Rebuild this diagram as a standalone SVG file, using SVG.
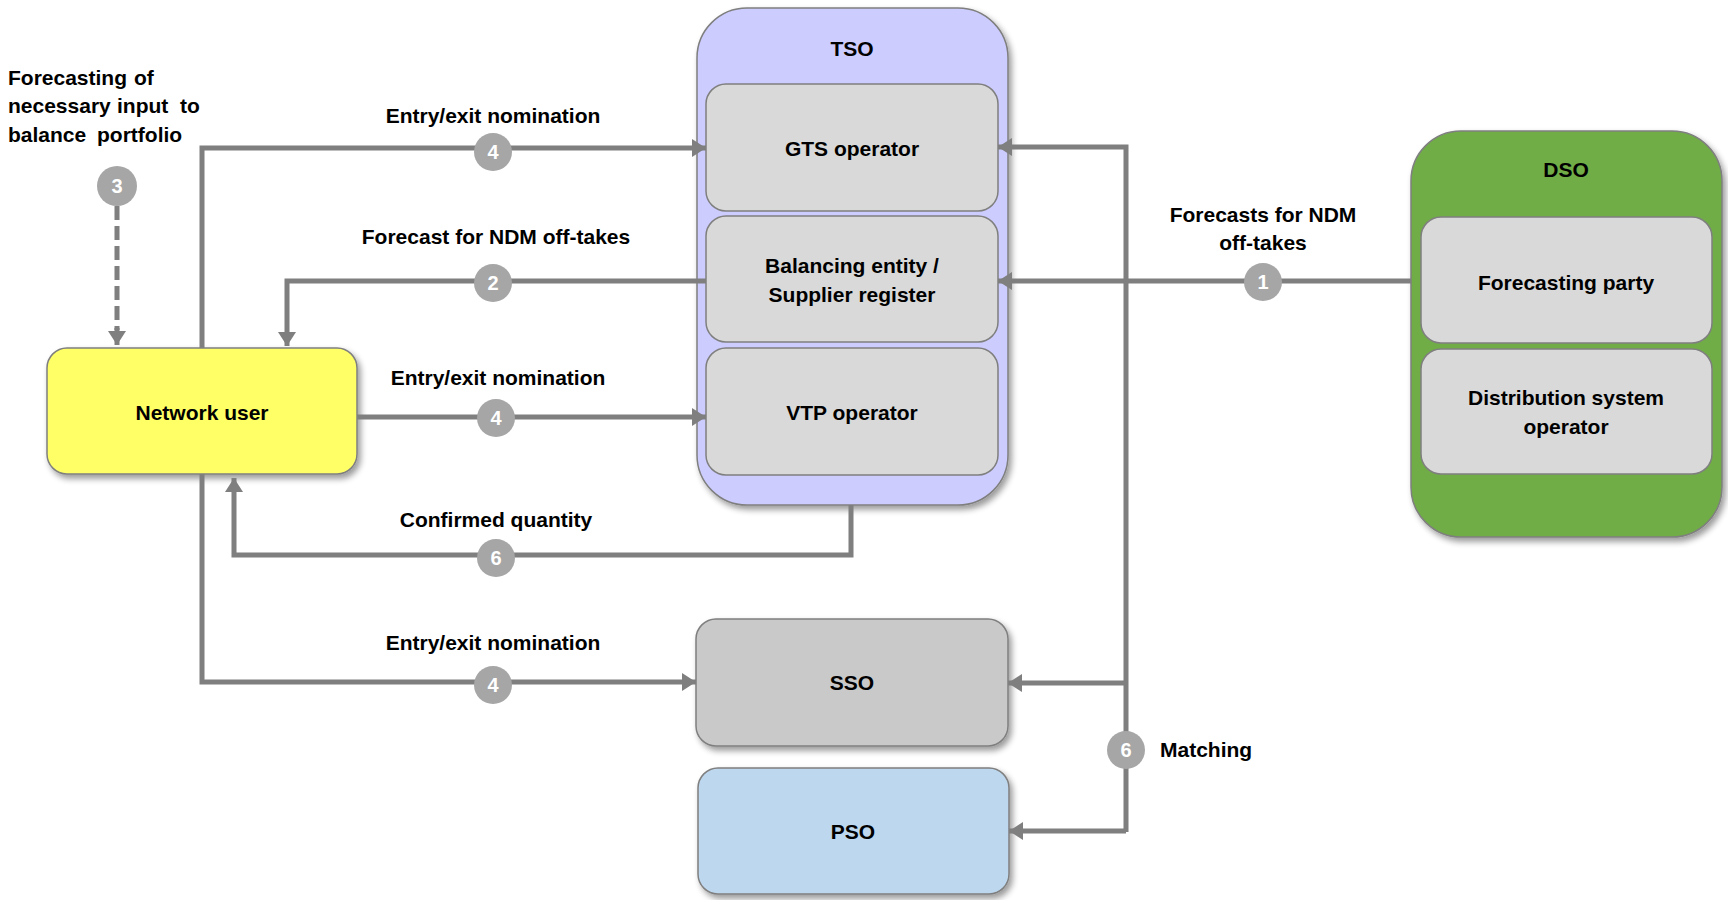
<svg xmlns="http://www.w3.org/2000/svg" width="1728" height="900" viewBox="0 0 1728 900">
<style>
text{font-family:"Liberation Sans",Arial,sans-serif;font-weight:bold;font-size:21px;fill:#000}
.c{text-anchor:middle}
.box{stroke:#7f7f7f;stroke-width:1.5}
.inner{fill:#d9d9d9;stroke:#7f7f7f;stroke-width:1.5}
.ln{fill:none;stroke:#7f7f7f;stroke-width:5}
.arr{marker-end:url(#ah)}
.badge circle{fill:#a6a6a6}
.badge text{fill:#fff;text-anchor:middle;font-size:20px}
</style>
<defs>
<filter id="sh" x="-10%" y="-10%" width="130%" height="130%">
<feGaussianBlur in="SourceAlpha" stdDeviation="3"/>
<feOffset dx="3" dy="4" result="b"/>
<feComponentTransfer><feFuncA type="linear" slope="0.4"/></feComponentTransfer>
<feMerge><feMergeNode/><feMergeNode in="SourceGraphic"/></feMerge>
</filter>
<marker id="ah" markerUnits="userSpaceOnUse" markerWidth="16" markerHeight="18" refX="14" refY="9" orient="auto">
<path d="M0,0 L14,9 L0,18 z" fill="#7f7f7f"/>
</marker>
</defs>

<g id="TSO">
<rect class="box" x="697" y="8" width="311" height="497" rx="50" fill="#ccccff" filter="url(#sh)"/>
<text class="c" x="852" y="56">TSO</text>
</g>
<g id="GTS">
<rect class="inner" x="706" y="84" width="292" height="127" rx="20"/>
<text class="c" x="852" y="156">GTS operator</text>
</g>
<g id="Balancing">
<rect class="inner" x="706" y="216" width="292" height="126" rx="20"/>
<text class="c" x="852" y="273">Balancing entity /</text>
<text class="c" x="852" y="302">Supplier register</text>
</g>
<g id="VTP">
<rect class="inner" x="706" y="348" width="292" height="127" rx="20"/>
<text class="c" x="852" y="420">VTP operator</text>
</g>

<g id="DSO">
<rect class="box" x="1411" y="131" width="311" height="406" rx="50" fill="#70ad47" filter="url(#sh)"/>
<text class="c" x="1566" y="177">DSO</text>
</g>
<g id="ForecastingParty">
<rect class="inner" x="1421" y="217" width="291" height="126" rx="20"/>
<text class="c" x="1566" y="290">Forecasting party</text>
</g>
<g id="DistributionSystemOperator">
<rect class="inner" x="1421" y="349" width="291" height="125" rx="20"/>
<text class="c" x="1566" y="405">Distribution system</text>
<text class="c" x="1566" y="434">operator</text>
</g>

<g id="NetworkUser">
<rect class="box" x="47" y="348" width="310" height="126" rx="20" fill="#ffff66" filter="url(#sh)"/>
<text class="c" x="202" y="420">Network user</text>
</g>
<g id="SSO">
<rect class="box" x="696" y="619" width="312" height="127" rx="20" fill="#c9c9c9" filter="url(#sh)"/>
<text class="c" x="852" y="690">SSO</text>
</g>
<g id="PSO">
<rect class="box" x="698" y="768" width="311" height="126" rx="20" fill="#bdd7ee" filter="url(#sh)"/>
<text class="c" x="853" y="839">PSO</text>
</g>

<g id="connectors">
<path class="ln arr" d="M202,348 V148 H706"/>
<path class="ln arr" d="M706,281 H287 V346"/>
<path class="ln arr" d="M357,417 H706"/>
<path class="ln arr" d="M851,505 V555 H234 V478"/>
<path class="ln arr" d="M202,474 V682 H696"/>
<path class="ln" stroke-dasharray="14 6" d="M117,206 V330"/>
<path class="ln arr" d="M117,328 V345"/>
<path class="ln arr" d="M1411,281 H998"/>
<path class="ln arr" d="M1126,832 V147 H998"/>
<path class="ln arr" d="M1126,683 H1008"/>
<path class="ln arr" d="M1126,831 H1009"/>
</g>

<g id="labels">
<text x="8" y="85">Forecasting<tspan x="134">of</tspan></text>
<text x="8" y="113">necessary<tspan x="117">input</tspan><tspan x="180">to</tspan></text>
<text x="8" y="142">balance<tspan x="97">portfolio</tspan></text>
<text class="c" x="493" y="123">Entry/exit nomination</text>
<text class="c" x="496" y="244">Forecast for NDM off-takes</text>
<text class="c" x="498" y="385">Entry/exit nomination</text>
<text class="c" x="496" y="527">Confirmed quantity</text>
<text class="c" x="493" y="650">Entry/exit nomination</text>
<text class="c" x="1263" y="222">Forecasts for NDM</text>
<text class="c" x="1263" y="250">off-takes</text>
<text x="1160" y="757">Matching</text>
</g>

<g id="badges" class="badge">
<g><circle cx="117" cy="186" r="20"/><text x="117" y="193">3</text></g>
<g><circle cx="493" cy="152" r="19"/><text x="493" y="159">4</text></g>
<g><circle cx="493" cy="283" r="19"/><text x="493" y="290">2</text></g>
<g><circle cx="496" cy="418" r="19"/><text x="496" y="425">4</text></g>
<g><circle cx="496" cy="558" r="19"/><text x="496" y="565">6</text></g>
<g><circle cx="493" cy="685" r="19"/><text x="493" y="692">4</text></g>
<g><circle cx="1263" cy="282" r="19"/><text x="1263" y="289">1</text></g>
<g><circle cx="1126" cy="750" r="19"/><text x="1126" y="757">6</text></g>
</g>
</svg>
